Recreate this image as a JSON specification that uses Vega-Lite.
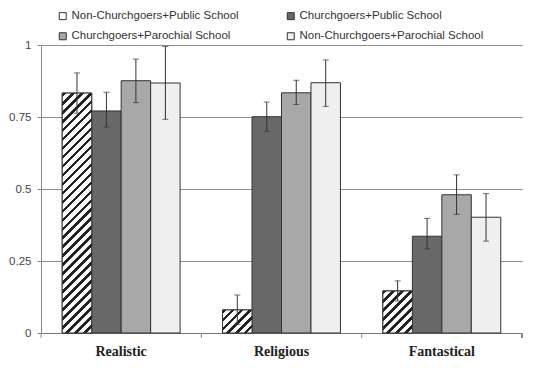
{
  "$schema": "https://vega.github.io/schema/vega-lite/v6.json",
  "width": 481,
  "height": 288,
  "autosize": "none",
  "padding": {"left": 41, "top": 45, "right": 18, "bottom": 36},
  "background": "white",
  "config": {"view": {"stroke": null}, "font": "Liberation Sans"},
  "data": {"values": [
    {"cat": "Realistic", "grp": "Non-Churchgoers+Public School", "v": 0.833, "lo": 0.763, "hi": 0.903},
    {"cat": "Realistic", "grp": "Churchgoers+Public School", "v": 0.771, "lo": 0.715, "hi": 0.836},
    {"cat": "Realistic", "grp": "Churchgoers+Parochial School", "v": 0.876, "lo": 0.8, "hi": 0.951},
    {"cat": "Realistic", "grp": "Non-Churchgoers+Parochial School", "v": 0.868, "lo": 0.742, "hi": 0.995},
    {"cat": "Religious", "grp": "Non-Churchgoers+Public School", "v": 0.08, "lo": 0.03, "hi": 0.132},
    {"cat": "Religious", "grp": "Churchgoers+Public School", "v": 0.751, "lo": 0.7, "hi": 0.802},
    {"cat": "Religious", "grp": "Churchgoers+Parochial School", "v": 0.834, "lo": 0.793, "hi": 0.878},
    {"cat": "Religious", "grp": "Non-Churchgoers+Parochial School", "v": 0.869, "lo": 0.787, "hi": 0.948},
    {"cat": "Fantastical", "grp": "Non-Churchgoers+Public School", "v": 0.146, "lo": 0.111, "hi": 0.181},
    {"cat": "Fantastical", "grp": "Churchgoers+Public School", "v": 0.336, "lo": 0.292, "hi": 0.398},
    {"cat": "Fantastical", "grp": "Churchgoers+Parochial School", "v": 0.48, "lo": 0.412, "hi": 0.549},
    {"cat": "Fantastical", "grp": "Non-Churchgoers+Parochial School", "v": 0.402, "lo": 0.319, "hi": 0.484}
  ]},
  "layer": [
    {
      "mark": {"type": "bar", "stroke": "#333333", "strokeWidth": 1},
      "encoding": {
        "x": {"field": "cat", "type": "nominal", "sort": ["Realistic", "Religious", "Fantastical"],
          "scale": {"paddingInner": 0, "paddingOuter": 0},
          "axis": {"title": null, "domainColor": "#777777", "ticks": false, "labelFont": "Liberation Serif", "labelFontWeight": "bold", "labelFontSize": 14, "labelColor": "#222222", "labelPadding": 11, "labelAngle": 0, "grid": false}},
        "xOffset": {"field": "grp", "type": "nominal",
          "scale": {"domain": ["Non-Churchgoers+Public School", "Churchgoers+Public School", "Churchgoers+Parochial School", "Non-Churchgoers+Parochial School"], "paddingInner": 0, "paddingOuter": 0.72}},
        "y": {"field": "v", "type": "quantitative", "title": null, "scale": {"domain": [0, 1], "nice": false},
          "axis": {"title": null, "values": [0, 0.25, 0.5, 0.75, 1], "format": ".2~f", "grid": true, "gridColor": "#8c8c8c", "domainColor": "#888888", "tickColor": "#888888", "tickSize": 4, "labelFontSize": 11.5, "labelColor": "#444444", "labelPadding": 6}},
        "fill": {"field": "grp", "type": "nominal",
          "scale": {"domain": ["Non-Churchgoers+Public School", "Churchgoers+Public School", "Churchgoers+Parochial School", "Non-Churchgoers+Parochial School"], "range": ["#ffffff", "#686868", "#a8a8a8", "#efefef"]},
          "legend": {"orient": "none", "legendX": 16, "legendY": -35, "direction": "horizontal", "columns": 2, "title": null, "symbolType": "square", "symbolSize": 49, "symbolStrokeColor": "#333333", "symbolStrokeWidth": 1, "labelFontSize": 11.5, "labelColor": "#333333", "labelLimit": 400, "labelOffset": 3, "columnPadding": 46, "rowPadding": 7.5, "padding": 0}}
      }
    },
    {
      "transform": [{"filter": "datum.grp === 'Non-Churchgoers+Public School'"}],
      "mark": {"type": "bar", "stroke": "#333333", "strokeWidth": 1},
      "encoding": {
        "x": {"field": "cat", "type": "nominal", "sort": ["Realistic", "Religious", "Fantastical"], "title": null},
        "xOffset": {"field": "grp", "type": "nominal"},
        "y": {"field": "v", "type": "quantitative", "title": null},
        "fill": {
          "condition": [
            {"test": "datum.cat === 'Realistic'", "value": {"gradient": "linear", "x1": 0, "y1": 0, "x2": 0.1359, "y2": 1.1062, "stops": [
              {"offset": 0, "color": "#222"}, {"offset": 0.014, "color": "#222"}, {"offset": 0.014, "color": "#fff"}, {"offset": 0.0333, "color": "#fff"},
              {"offset": 0.0333, "color": "#222"}, {"offset": 0.0473, "color": "#222"}, {"offset": 0.0473, "color": "#fff"}, {"offset": 0.0667, "color": "#fff"},
              {"offset": 0.0667, "color": "#222"}, {"offset": 0.0807, "color": "#222"}, {"offset": 0.0807, "color": "#fff"}, {"offset": 0.1, "color": "#fff"},
              {"offset": 0.1, "color": "#222"}, {"offset": 0.114, "color": "#222"}, {"offset": 0.114, "color": "#fff"}, {"offset": 0.1333, "color": "#fff"},
              {"offset": 0.1333, "color": "#222"}, {"offset": 0.1473, "color": "#222"}, {"offset": 0.1473, "color": "#fff"}, {"offset": 0.1667, "color": "#fff"},
              {"offset": 0.1667, "color": "#222"}, {"offset": 0.1807, "color": "#222"}, {"offset": 0.1807, "color": "#fff"}, {"offset": 0.2, "color": "#fff"},
              {"offset": 0.2, "color": "#222"}, {"offset": 0.214, "color": "#222"}, {"offset": 0.214, "color": "#fff"}, {"offset": 0.2333, "color": "#fff"},
              {"offset": 0.2333, "color": "#222"}, {"offset": 0.2473, "color": "#222"}, {"offset": 0.2473, "color": "#fff"}, {"offset": 0.2667, "color": "#fff"},
              {"offset": 0.2667, "color": "#222"}, {"offset": 0.2807, "color": "#222"}, {"offset": 0.2807, "color": "#fff"}, {"offset": 0.3, "color": "#fff"},
              {"offset": 0.3, "color": "#222"}, {"offset": 0.314, "color": "#222"}, {"offset": 0.314, "color": "#fff"}, {"offset": 0.3333, "color": "#fff"},
              {"offset": 0.3333, "color": "#222"}, {"offset": 0.3473, "color": "#222"}, {"offset": 0.3473, "color": "#fff"}, {"offset": 0.3667, "color": "#fff"},
              {"offset": 0.3667, "color": "#222"}, {"offset": 0.3807, "color": "#222"}, {"offset": 0.3807, "color": "#fff"}, {"offset": 0.4, "color": "#fff"},
              {"offset": 0.4, "color": "#222"}, {"offset": 0.414, "color": "#222"}, {"offset": 0.414, "color": "#fff"}, {"offset": 0.4333, "color": "#fff"},
              {"offset": 0.4333, "color": "#222"}, {"offset": 0.4473, "color": "#222"}, {"offset": 0.4473, "color": "#fff"}, {"offset": 0.4667, "color": "#fff"},
              {"offset": 0.4667, "color": "#222"}, {"offset": 0.4807, "color": "#222"}, {"offset": 0.4807, "color": "#fff"}, {"offset": 0.5, "color": "#fff"},
              {"offset": 0.5, "color": "#222"}, {"offset": 0.514, "color": "#222"}, {"offset": 0.514, "color": "#fff"}, {"offset": 0.5333, "color": "#fff"},
              {"offset": 0.5333, "color": "#222"}, {"offset": 0.5473, "color": "#222"}, {"offset": 0.5473, "color": "#fff"}, {"offset": 0.5667, "color": "#fff"},
              {"offset": 0.5667, "color": "#222"}, {"offset": 0.5807, "color": "#222"}, {"offset": 0.5807, "color": "#fff"}, {"offset": 0.6, "color": "#fff"},
              {"offset": 0.6, "color": "#222"}, {"offset": 0.614, "color": "#222"}, {"offset": 0.614, "color": "#fff"}, {"offset": 0.6333, "color": "#fff"},
              {"offset": 0.6333, "color": "#222"}, {"offset": 0.6473, "color": "#222"}, {"offset": 0.6473, "color": "#fff"}, {"offset": 0.6667, "color": "#fff"},
              {"offset": 0.6667, "color": "#222"}, {"offset": 0.6807, "color": "#222"}, {"offset": 0.6807, "color": "#fff"}, {"offset": 0.7, "color": "#fff"},
              {"offset": 0.7, "color": "#222"}, {"offset": 0.714, "color": "#222"}, {"offset": 0.714, "color": "#fff"}, {"offset": 0.7333, "color": "#fff"},
              {"offset": 0.7333, "color": "#222"}, {"offset": 0.7473, "color": "#222"}, {"offset": 0.7473, "color": "#fff"}, {"offset": 0.7667, "color": "#fff"},
              {"offset": 0.7667, "color": "#222"}, {"offset": 0.7807, "color": "#222"}, {"offset": 0.7807, "color": "#fff"}, {"offset": 0.8, "color": "#fff"},
              {"offset": 0.8, "color": "#222"}, {"offset": 0.814, "color": "#222"}, {"offset": 0.814, "color": "#fff"}, {"offset": 0.8333, "color": "#fff"},
              {"offset": 0.8333, "color": "#222"}, {"offset": 0.8473, "color": "#222"}, {"offset": 0.8473, "color": "#fff"}, {"offset": 0.8667, "color": "#fff"},
              {"offset": 0.8667, "color": "#222"}, {"offset": 0.8807, "color": "#222"}, {"offset": 0.8807, "color": "#fff"}, {"offset": 0.9, "color": "#fff"},
              {"offset": 0.9, "color": "#222"}, {"offset": 0.914, "color": "#222"}, {"offset": 0.914, "color": "#fff"}, {"offset": 0.9333, "color": "#fff"},
              {"offset": 0.9333, "color": "#222"}, {"offset": 0.9473, "color": "#222"}, {"offset": 0.9473, "color": "#fff"}, {"offset": 0.9667, "color": "#fff"},
              {"offset": 0.9667, "color": "#222"}, {"offset": 0.9807, "color": "#222"}, {"offset": 0.9807, "color": "#fff"}, {"offset": 1, "color": "#fff"}
            ]}},
            {"test": "datum.cat === 'Religious'", "value": {"gradient": "linear", "x1": 0, "y1": 0, "x2": 1.1059, "y2": 0.8646, "stops": [
              {"offset": 0, "color": "#222"}, {"offset": 0.07, "color": "#222"}, {"offset": 0.07, "color": "#fff"}, {"offset": 0.1667, "color": "#fff"},
              {"offset": 0.1667, "color": "#222"}, {"offset": 0.2367, "color": "#222"}, {"offset": 0.2367, "color": "#fff"}, {"offset": 0.3333, "color": "#fff"},
              {"offset": 0.3333, "color": "#222"}, {"offset": 0.4033, "color": "#222"}, {"offset": 0.4033, "color": "#fff"}, {"offset": 0.5, "color": "#fff"},
              {"offset": 0.5, "color": "#222"}, {"offset": 0.57, "color": "#222"}, {"offset": 0.57, "color": "#fff"}, {"offset": 0.6667, "color": "#fff"},
              {"offset": 0.6667, "color": "#222"}, {"offset": 0.7367, "color": "#222"}, {"offset": 0.7367, "color": "#fff"}, {"offset": 0.8333, "color": "#fff"},
              {"offset": 0.8333, "color": "#222"}, {"offset": 0.9033, "color": "#222"}, {"offset": 0.9033, "color": "#fff"}, {"offset": 1, "color": "#fff"}
            ]}}
          ],
          "value": {"gradient": "linear", "x1": 0, "y1": 0, "x2": 0.7994, "y2": 1.1406, "stops": [
            {"offset": 0, "color": "#222"}, {"offset": 0.0525, "color": "#222"}, {"offset": 0.0525, "color": "#fff"}, {"offset": 0.125, "color": "#fff"},
            {"offset": 0.125, "color": "#222"}, {"offset": 0.1775, "color": "#222"}, {"offset": 0.1775, "color": "#fff"}, {"offset": 0.25, "color": "#fff"},
            {"offset": 0.25, "color": "#222"}, {"offset": 0.3025, "color": "#222"}, {"offset": 0.3025, "color": "#fff"}, {"offset": 0.375, "color": "#fff"},
            {"offset": 0.375, "color": "#222"}, {"offset": 0.4275, "color": "#222"}, {"offset": 0.4275, "color": "#fff"}, {"offset": 0.5, "color": "#fff"},
            {"offset": 0.5, "color": "#222"}, {"offset": 0.5525, "color": "#222"}, {"offset": 0.5525, "color": "#fff"}, {"offset": 0.625, "color": "#fff"},
            {"offset": 0.625, "color": "#222"}, {"offset": 0.6775, "color": "#222"}, {"offset": 0.6775, "color": "#fff"}, {"offset": 0.75, "color": "#fff"},
            {"offset": 0.75, "color": "#222"}, {"offset": 0.8025, "color": "#222"}, {"offset": 0.8025, "color": "#fff"}, {"offset": 0.875, "color": "#fff"},
            {"offset": 0.875, "color": "#222"}, {"offset": 0.9275, "color": "#222"}, {"offset": 0.9275, "color": "#fff"}, {"offset": 1, "color": "#fff"}
          ]}
        }
      }
    },
    {
      "mark": {"type": "rule", "color": "#333333", "strokeWidth": 1},
      "encoding": {
        "x": {"field": "cat", "type": "nominal", "sort": ["Realistic", "Religious", "Fantastical"], "title": null},
        "xOffset": {"field": "grp", "type": "nominal"},
        "y": {"field": "lo", "type": "quantitative", "title": null},
        "y2": {"field": "hi"}
      }
    },
    {
      "mark": {"type": "tick", "color": "#333333", "size": 6, "thickness": 1},
      "encoding": {
        "x": {"field": "cat", "type": "nominal", "sort": ["Realistic", "Religious", "Fantastical"], "title": null},
        "xOffset": {"field": "grp", "type": "nominal"},
        "y": {"field": "lo", "type": "quantitative", "title": null}
      }
    },
    {
      "mark": {"type": "tick", "color": "#333333", "size": 6, "thickness": 1},
      "encoding": {
        "x": {"field": "cat", "type": "nominal", "sort": ["Realistic", "Religious", "Fantastical"], "title": null},
        "xOffset": {"field": "grp", "type": "nominal"},
        "y": {"field": "hi", "type": "quantitative", "title": null}
      }
    },
    {
      "transform": [{"filter": "datum.grp === 'Non-Churchgoers+Public School'"}],
      "mark": {"type": "rule", "color": "#888888", "strokeWidth": 1},
      "encoding": {
        "x": {"field": "cat", "type": "nominal", "sort": ["Realistic", "Religious", "Fantastical"], "bandPosition": 0, "title": null},
        "y": {"datum": 0, "type": "quantitative"},
        "y2": {"datum": -0.0174}
      }
    },
    {
      "mark": {"type": "rule", "color": "#888888", "strokeWidth": 1},
      "encoding": {
        "x": {"datum": "Fantastical", "type": "nominal", "bandPosition": 1},
        "y": {"datum": 0, "type": "quantitative"},
        "y2": {"datum": -0.0174}
      }
    }
  ]
}
